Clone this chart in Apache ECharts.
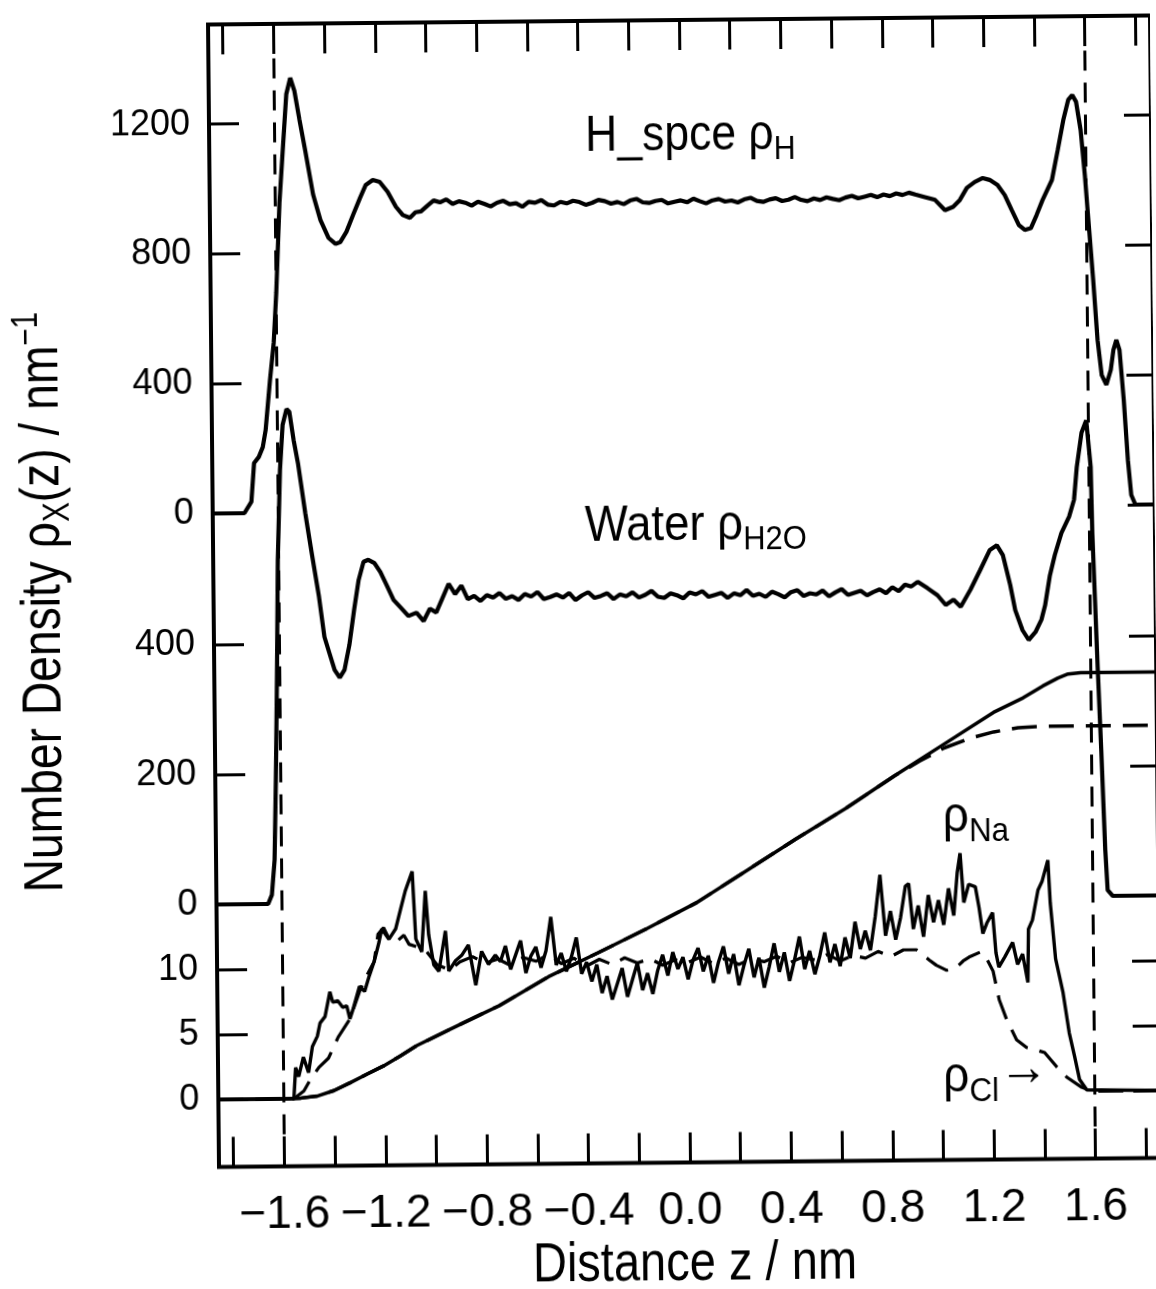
<!DOCTYPE html>
<html><head><meta charset="utf-8">
<script src="https://cdn.jsdelivr.net/npm/echarts@6/dist/echarts.min.js"></script>
<style>
html,body{margin:0;padding:0;background:#fff;overflow:hidden}
#chart{width:1156px;height:1289px;transform:rotate(-0.55deg);transform-origin:578px 644.5px}
</style></head><body><div id="chart"></div>
<script>
// ---- tick values ----
const zTickValues = [-1.8,-1.6,-1.4,-1.2,-1.0,-0.8,-0.6,-0.4,-0.2,0,0.2,0.4,0.6,0.8,1.0,1.2,1.4,1.6,1.8];
const zLabelValues = [-1.6,-1.2,-0.8,-0.4,0,0.4,0.8,1.2,1.6];
const hTickValues = [0,400,800,1200];
const waterTickValues = [0,200,400];
const ionTickValues = [0,5,10];
const interfaceZ = [-1.6, 1.6];

// ---- H_spce hydrogen density (z nm, nm^-1) ----
const hDensity = [
[-1.858,0],[-1.733,0],[-1.705,35],[-1.693,154],[-1.674,173],[-1.658,203],[-1.646,256],[-1.627,410],[-1.611,524],[-1.599,678],[-1.583,955],[-1.568,1118],[-1.552,1290],[-1.536,1340],[-1.52,1300],[-1.501,1211],[-1.48,1118],[-1.45,980],[-1.422,901],[-1.391,846],[-1.363,827],[-1.344,833],[-1.32,864],[-1.293,916],[-1.265,968],[-1.242,1008],[-1.214,1023],[-1.187,1017],[-1.156,986],[-1.124,940],[-1.097,914],[-1.069,905],[-1.047,922],
[-1.025,925],[-1.0,942],[-0.975,958],[-0.95,952],[-0.925,961],[-0.9,947],[-0.875,955],[-0.85,950],[-0.825,941],[-0.8,953],[-0.775,946],[-0.75,938],[-0.725,949],[-0.7,955],[-0.675,944],[-0.65,947],[-0.625,936],[-0.6,951],[-0.575,948],[-0.55,956],[-0.525,942],[-0.5,939],[-0.475,950],[-0.45,945],[-0.425,953],[-0.4,949],[-0.375,940],[-0.35,946],[-0.325,955],[-0.3,951],[-0.275,943],[-0.25,948],[-0.225,941],[-0.2,952],[-0.175,957],[-0.15,946],[-0.125,944],[-0.1,950],[-0.075,953],[-0.05,942],[-0.025,947],[0,951],[0.025,945],[0.05,956],[0.075,948],[0.1,941],[0.125,950],[0.15,954],[0.175,946],[0.2,949],[0.225,943],[0.25,952],[0.275,957],[0.3,947],[0.325,944],[0.35,951],[0.375,955],[0.4,946],[0.425,950],[0.45,958],[0.475,949],[0.5,945],[0.525,953],[0.55,948],[0.575,956],[0.6,951],[0.625,947],[0.65,955],[0.675,960],[0.7,952],[0.725,957],[0.75,962],[0.775,955],[0.8,963],[0.825,958],[0.85,966],[0.875,961],[0.9,968],[0.925,962],
[0.963,954],[1.003,945],[1.042,913],[1.074,923],[1.101,944],[1.129,981],[1.16,999],[1.192,1011],[1.219,1005],[1.25,989],[1.278,958],[1.305,912],[1.333,865],[1.356,850],[1.38,855],[1.403,895],[1.427,941],[1.465,1003],[1.489,1095],[1.512,1187],[1.532,1249],[1.548,1264],[1.563,1243],[1.58,1156],[1.595,1017],[1.61,848],[1.624,693],[1.639,508],[1.654,400],[1.672,370],[1.69,416],[1.701,477],[1.713,508],[1.725,477],[1.74,323],[1.754,138],[1.766,30],[1.782,0],[1.858,0]
];

// ---- water density ----
const waterDensity = [
[-1.858,0],[-1.654,0],[-1.639,14],[-1.627,68],[-1.619,191],[-1.611,345],[-1.603,529],[-1.591,668],[-1.579,737],[-1.563,761],[-1.552,757],[-1.536,713],[-1.52,678],[-1.493,601],[-1.469,539],[-1.442,472],[-1.422,410],[-1.403,385],[-1.383,359],[-1.363,347],[-1.344,359],[-1.324,397],[-1.304,451],[-1.285,497],[-1.265,525],[-1.246,528],[-1.222,523],[-1.199,509],[-1.175,489],[-1.148,466],[-1.12,454],[-1.09,441],[-1.058,446],
[-1.03,433],[-1.005,452],[-0.98,446],[-0.955,468],[-0.93,490],[-0.905,474],[-0.88,487],[-0.855,466],[-0.83,471],[-0.805,463],[-0.78,472],[-0.755,468],[-0.73,475],[-0.705,466],[-0.68,470],[-0.655,464],[-0.63,473],[-0.605,469],[-0.58,476],[-0.555,465],[-0.53,468],[-0.505,472],[-0.48,467],[-0.455,474],[-0.43,463],[-0.405,470],[-0.38,475],[-0.355,466],[-0.33,469],[-0.305,473],[-0.28,464],[-0.255,471],[-0.23,468],[-0.205,474],[-0.18,466],[-0.155,470],[-0.13,476],[-0.105,467],[-0.08,465],[-0.055,472],[-0.03,469],[-0.005,464],[0.02,473],[0.045,470],[0.07,475],[0.095,466],[0.12,469],[0.145,472],[0.17,464],[0.195,471],[0.22,468],[0.245,476],[0.27,467],[0.295,470],[0.32,465],[0.345,473],[0.37,469],[0.395,464],[0.42,472],[0.445,475],[0.47,466],[0.495,470],[0.52,468],[0.545,474],[0.57,465],[0.595,471],[0.62,476],[0.645,467],[0.67,470],[0.695,473],[0.72,466],[0.745,471],[0.77,475],[0.795,469],[0.82,478],[0.845,472],[0.87,482],[0.895,479],[0.92,486],
[0.959,476],[0.998,465],[1.03,450],[1.061,458],[1.089,447],[1.128,473],[1.167,503],[1.206,534],[1.234,541],[1.257,526],[1.285,480],[1.304,441],[1.332,410],[1.356,395],[1.383,407],[1.407,426],[1.422,448],[1.442,494],[1.462,525],[1.489,559],[1.52,584],[1.54,610],[1.552,660],[1.572,713],[1.591,732],[1.607,660],[1.611,558],[1.619,455],[1.627,352],[1.638,224],[1.65,71],[1.658,9],[1.678,0],[1.858,0]
];

// ---- Na+ density (solid, noisy) ----
const naDensity = [
[-1.858,0],[-1.56,0],[-1.552,2.4],[-1.54,1.7],[-1.521,3.2],[-1.501,2.0],[-1.485,4.0],[-1.465,4.8],[-1.454,5.8],[-1.434,6.3],[-1.414,8.2],[-1.403,7.4],[-1.383,7.5],[-1.364,7.0],[-1.348,7.1],[-1.336,6.1],[-1.324,6.8],[-1.297,8.6],[-1.277,8.2],[-1.258,9.4],[-1.238,10.5],[-1.218,12.0],[-1.207,13.0],[-1.179,12.2],[-1.152,13.0],[-1.132,14.5],[-1.113,15.9],[-1.085,17.4],[-1.073,12.2],[-1.05,11.2],[-1.034,15.9],[-1.022,12.5],[-1.003,10.2],[-0.983,9.7],[-0.956,12.8],[-0.944,9.7],[-0.917,10.5],[-0.893,10.9],[-0.866,11.7],[-0.838,8.6],[-0.814,11.2],[-0.787,10.2],[-0.76,10.9],
[-0.74,10.4],[-0.72,11.6],[-0.70,9.8],[-0.68,10.9],[-0.66,12.0],[-0.64,9.5],[-0.62,10.8],[-0.60,11.5],[-0.58,9.9],[-0.56,11.2],[-0.54,13.8],[-0.52,10.1],[-0.50,11.0],[-0.48,9.6],[-0.46,10.7],[-0.44,12.2],[-0.42,9.4],[-0.40,10.3],[-0.38,8.8],[-0.36,10.1],[-0.34,7.9],[-0.32,9.2],[-0.30,7.4],[-0.28,8.6],[-0.26,9.8],[-0.24,7.6],[-0.22,8.9],[-0.20,10.2],[-0.18,8.1],[-0.16,9.4],[-0.14,7.8],[-0.12,9.6],[-0.10,10.8],[-0.08,9.2],[-0.06,11.0],[-0.04,9.7],[-0.02,10.6],[0.00,8.9],[0.02,10.4],[0.04,11.3],[0.06,9.5],[0.08,10.7],[0.10,8.6],[0.12,10.2],[0.14,11.4],[0.16,9.3],[0.18,10.8],[0.20,8.4],[0.22,9.9],[0.24,11.2],[0.26,9.0],[0.28,10.5],[0.30,8.2],[0.32,9.8],[0.34,11.6],[0.36,9.4],[0.38,10.9],[0.40,8.7],[0.42,10.3],[0.44,12.1],[0.46,9.6],[0.48,11.0],[0.50,9.2],[0.52,10.6],[0.54,12.4],[0.56,10.1],[0.58,11.5],[0.60,9.8],[0.62,12.0],[0.64,10.4],[0.66,13.2],[0.68,11.1],
[0.70,12.5],[0.72,11.0],[0.74,13.6],[0.76,16.8],[0.78,12.1],[0.80,14.0],[0.82,11.8],[0.84,13.5],[0.86,15.9],[0.873,16.1],[0.89,12.6],[0.91,14.4],[0.93,12.0],[0.95,15.2],[0.97,13.1],[0.99,14.8],[1.01,12.9],[1.03,15.7],[1.05,13.6],[1.065,16.9],[1.077,18.4],[1.09,14.6],[1.11,16.0],[1.136,15.8],[1.15,14.2],[1.164,12.2],[1.18,13.0],[1.203,13.8],[1.215,10.7],[1.226,9.6],[1.25,10.4],[1.281,11.5],[1.30,9.8],[1.32,10.6],[1.34,8.4],[1.344,12.5],[1.36,13.2],[1.383,15.5],[1.40,16.2],[1.423,17.8],[1.431,14.5],[1.45,10.2],[1.478,7.6],[1.501,4.5],[1.521,2.7],[1.54,0.9],[1.568,0.1],[1.858,0]
];

// ---- Cl- density (dashed) ----
const clDensity = [
[-1.858,0],[-1.56,0],[-1.52,0.6],[-1.493,1.5],[-1.46,2.4],[-1.422,3.1],[-1.40,4.0],[-1.383,4.7],[-1.336,6.1],[-1.297,8.2],[-1.268,9.4],[-1.238,10.5],[-1.222,12.6],[-1.2,13.1],[-1.18,12.3],[-1.15,12.0],[-1.12,12.5],[-1.10,11.8],[-1.07,11.6],[-1.03,11.2],[-0.99,10.2],[-0.94,9.8],[-0.9,10.4],[-0.85,10.8],[-0.8,10.3],[-0.75,10.6],[-0.7,10.1],[-0.65,10.7],[-0.6,10.4],[-0.55,10.9],[-0.5,10.2],[-0.45,10.6],[-0.4,10.0],[-0.35,10.5],[-0.3,10.1],[-0.25,10.6],[-0.2,10.2],[-0.15,10.5],[-0.1,10.0],[-0.05,10.4],[0,10.2],[0.05,10.6],[0.1,10.1],[0.15,10.5],[0.2,10.0],[0.25,10.4],[0.3,10.2],[0.35,10.6],[0.4,10.1],[0.45,10.5],[0.5,10.3],[0.55,10.7],[0.6,10.2],[0.65,10.6],[0.7,10.4],[0.75,10.9],[0.8,10.5],[0.85,11.0],[0.901,11.0],[0.952,10.2],[0.979,9.8],[1.02,9.4],[1.058,9.6],[1.085,10.1],[1.109,10.4],[1.156,10.8],[1.18,10.2],[1.203,9.3],[1.226,7.1],[1.254,5.6],[1.293,4.0],[1.332,3.4],[1.37,3.2],[1.403,3.0],[1.45,1.9],[1.489,1.1],[1.548,0.3],[1.587,0],[1.858,0]
];

// ---- smooth integrated curves (solid / dashed) ----
const integralSolid = [
[-1.858,0],[-1.6,0],[-1.532,0.05],[-1.465,0.2],[-1.402,0.6],[-1.336,1.2],[-1.27,1.85],[-1.206,2.45],[-1.14,3.2],[-1.073,4.0],[-0.944,5.2],[-0.814,6.4],[-0.747,7.0],[-0.551,9.2],[-0.355,11.0],[-0.159,12.85],[0.037,14.8],[0.233,17.2],[0.429,19.6],[0.626,21.9],[0.822,24.4],[1.018,26.8],[1.214,29.2],[1.332,30.3],[1.41,31.2],[1.47,31.8],[1.51,32.1],[1.56,32.2],[1.858,32.2]
];
const integralDashed = [
[-1.858,0],[-1.6,0],[-1.532,0.05],[-1.465,0.2],[-1.402,0.6],[-1.336,1.2],[-1.27,1.85],[-1.206,2.45],[-1.14,3.2],[-1.073,4.0],[-0.944,5.2],[-0.814,6.4],[-0.747,7.0],[-0.551,9.2],[-0.355,11.0],[-0.159,12.85],[0.037,14.8],[0.233,17.2],[0.429,19.6],[0.626,21.9],[0.822,24.4],[0.92,25.5],[1.018,26.5],[1.116,27.2],[1.214,27.7],[1.31,28.0],[1.41,28.1],[1.858,28.1]
];

// ---- styling / layout ----
const FONT = "'Liberation Sans',Arial,Helvetica,sans-serif";
const GRID = {left: 214, right: -5, top: 21, bottom: 125.5};
const fmtMinus = v => (Math.abs(v) < 1e-9 ? '0.0' : v.toFixed(1)).replace('-', '\u2212');

function yAx(gridIndex, min, max, ticks, right) {
  return {
    type: 'value', gridIndex, min, max, position: right ? 'right' : 'left',
    axisLine: {show: false, onZero: false}, splitLine: {show: false},
    axisTick: {show: true, inside: true, length: right ? 27 : 30, customValues: ticks, lineStyle: {color: '#000', width: 3}},
    axisLabel: right ? {show: false} : {show: true, customValues: ticks, formatter: v => String(v), color: '#000', fontFamily: FONT, fontSize: 36, margin: 19}
  };
}
function xAx(gridIndex, pos, labels) {
  return {
    type: 'value', gridIndex, min: -1.858, max: 1.858, position: pos,
    axisLine: {show: false, onZero: false}, splitLine: {show: false},
    axisTick: {show: true, inside: true, length: 30, customValues: zTickValues, lineStyle: {color: '#000', width: 3}},
    axisLabel: labels ? {show: true, customValues: zLabelValues, formatter: fmtMinus, color: '#000', fontFamily: FONT, fontSize: 46, margin: 26, hideOverlap: false} : {show: false}
  };
}
function line(name, xi, yi, data, width, dashed) {
  return {
    name, type: 'line', xAxisIndex: xi, yAxisIndex: yi, data, showSymbol: false, symbol: 'none',
    lineStyle: {color: '#000', width, type: dashed ? [25, 12] : 'solid'}, silent: true, z: 3
  };
}

const chart = echarts.init(document.getElementById('chart'), null, {renderer: 'canvas'});
const naSeries = line('Na', 2, 4, naDensity, 3.4, false);
naSeries.markLine = {
  silent: true, symbol: ['none', 'none'], animation: false, label: {show: false},
  lineStyle: {color: '#000', width: 3, type: [20, 12]},
  data: interfaceZ.map(z => ({xAxis: z}))
};
const sub = (size, pad) => ({fontFamily: FONT, fontSize: size, fill: '#000', padding: pad});
chart.setOption({
  animation: false,
  backgroundColor: '#fff',
  grid: [
    Object.assign({show: true, borderColor: '#000', borderWidth: 4, backgroundColor: 'transparent'}, GRID),
    Object.assign({}, GRID),
    Object.assign({}, GRID)
  ],
  xAxis: [xAx(0, 'top', false), Object.assign(xAx(1, 'bottom', false), {show: false}), xAx(2, 'bottom', true)],
  yAxis: [
    yAx(0, -2013.9, 1506.9, hTickValues, false), yAx(0, -2013.9, 1506.9, hTickValues, true),
    yAx(1, -403.8, 1353.8, waterTickValues, false), yAx(1, -403.8, 1353.8, waterTickValues, true),
    yAx(2, -5.19, 82.69, ionTickValues, false), yAx(2, -5.19, 82.69, ionTickValues, true)
  ],
  series: [
    line('H_spce', 0, 0, hDensity, 4.2, false),
    line('Water', 1, 2, waterDensity, 4.2, false),
    naSeries,
    line('Cl', 2, 4, clDensity, 3.2, true),
    line('integral solid', 2, 4, integralSolid, 3.5, false),
    line('integral dashed', 2, 4, integralDashed, 3.5, true)
  ],
  graphic: [
    {type: 'text', x: 590, y: 137, scaleX: 0.89, silent: true, style: {
      text: '{m|H_spce \u03c1}{s|H}', fill: '#000', align: 'left', verticalAlign: 'middle',
      rich: {m: sub(50, 0), s: sub(34, [30, 0, 0, 0])}}},
    {type: 'text', x: 586, y: 527, scaleX: 0.91, silent: true, style: {
      text: '{m|Water \u03c1}{s|H2O}', fill: '#000', align: 'left', verticalAlign: 'middle',
      rich: {m: sub(50, 0), s: sub(34, [30, 0, 0, 0])}}},
    {type: 'text', x: 941, y: 821, scaleX: 0.92, silent: true, style: {
      text: '{m|\u03c1}{s|Na}', fill: '#000', align: 'left', verticalAlign: 'middle',
      rich: {m: sub(50, 0), s: sub(34, [30, 0, 0, 0])}}},
    {type: 'text', x: 939, y: 1081, scaleX: 0.92, silent: true, style: {
      text: '{m|\u03c1}{s|Cl}{a|\u2192}', fill: '#000', align: 'left', verticalAlign: 'middle',
      rich: {m: sub(50, 0), s: sub(34, [30, 0, 0, 0]), a: sub(54, [0, 0, 14, 0])}}},
    {type: 'text', x: 45, y: 597, rotation: Math.PI / 2, scaleX: 0.825, silent: true, style: {
      text: '{m|Number Density \u03c1}{s|X}{m|(z) / nm}{p|\u22121}', fill: '#000', align: 'center', verticalAlign: 'middle',
      rich: {m: sub(56, 0), s: sub(36, [30, 0, 0, 0]), p: sub(36, [0, 0, 30, 0])}}},
    {type: 'text', x: 689, y: 1266, scaleX: 0.84, silent: true, style: {
      text: 'Distance z / nm', fill: '#000', align: 'center', verticalAlign: 'middle',
      fontFamily: FONT, fontSize: 56}}
  ]
});
</script></body></html>
